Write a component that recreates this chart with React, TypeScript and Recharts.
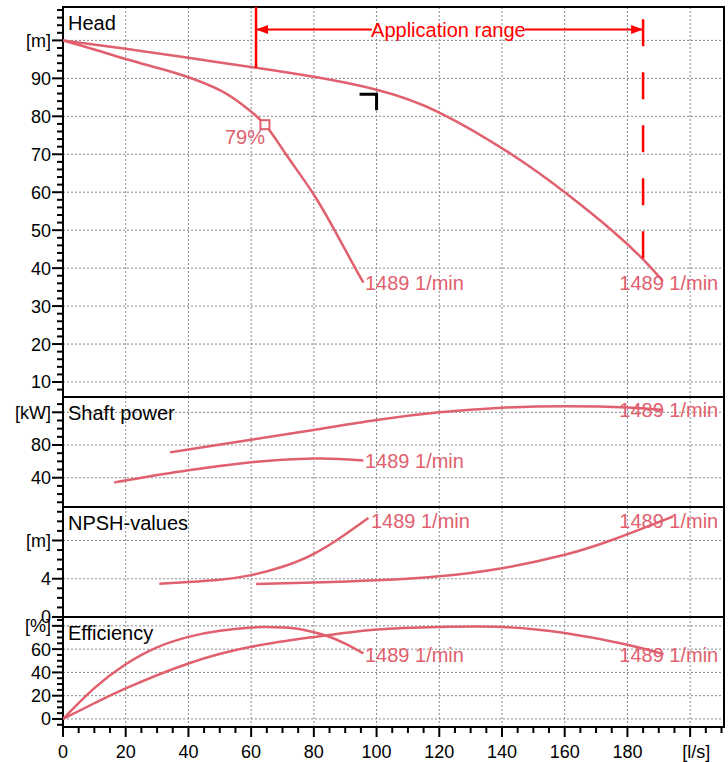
import React from 'react';
import {
  LineChart,
  Line,
  XAxis,
  YAxis,
  CartesianGrid,
  ReferenceLine,
  ReferenceDot,
  ReferenceArea,
} from 'recharts';

type Pt = { x: number; y: number };
const pts = (pairs: number[][]): Pt[] => pairs.map(([x, y]) => ({ x, y }));

// ---------- flow axis ----------
const X_MAX = 210.8;
const X_TICKS = Array.from({ length: 43 }, (_, i) => i * 5);
const X_MAJOR = [0, 20, 40, 60, 80, 100, 120, 140, 160, 180, 200];
const X_GRID = [20, 40, 60, 80, 100, 120, 140, 160, 180, 200];
const X_UNIT = '[l/s]';
const SPEED = '1489 1/min';

// ---------- Head [m] ----------
const headLarge = pts([
  [0, 100], [20, 97.8], [40, 95.4], [61.6, 92.8], [80, 90.4], [100, 87.0],
  [120, 81], [143, 70], [160, 60], [175, 50], [185, 42.3], [191.3, 36.6],
]);
const headSmall = pts([
  [0, 100], [10, 97.6], [20, 95.1], [30, 92.8], [40, 90.3], [50, 86.9], [57, 83.2],
  [64.4, 77.8], [71.1, 70], [79.5, 60], [86.6, 50], [93.2, 40], [95.8, 36.2],
]);
const HEAD_TICKS = Array.from({ length: 51 }, (_, i) => 8 + i * 2);
const HEAD_MAJOR = [10, 20, 30, 40, 50, 60, 70, 80, 90, 100];

// ---------- Shaft power [kW] ----------
const powerLarge = pts([
  [34.1, 71], [40, 74.6], [60, 86.4], [80, 98.4], [100, 110.6], [120, 120],
  [140, 125.6], [160, 127.4], [180, 126], [191.4, 122.8],
]);
const powerSmall = pts([
  [16.9, 34.7], [20, 36.6], [40, 49], [60, 58.8], [70, 62], [80, 63.4], [88, 63], [95.8, 61],
]);
const POWER_TICKS = [10, 20, 30, 40, 50, 60, 70, 80, 90, 100, 110, 120, 130];
const POWER_MAJOR = [40, 80, 120];

// ---------- NPSH [m] ----------
const npshSmall = pts([
  [30.7, 3.48], [40, 3.66], [50, 3.9], [59.6, 4.35], [70, 5.25], [80, 6.6],
  [89.4, 8.5], [97.4, 10.35],
]);
const npshLarge = pts([
  [61.6, 3.45], [80, 3.6], [100, 3.83], [120, 4.25], [140, 5.1], [160, 6.5],
  [175.5, 8.1], [194.5, 10.5],
]);
const NPSH_TICKS = [0, 1, 2, 3, 4, 5, 6, 7, 8, 9, 10, 11];
const NPSH_MAJOR = [0, 4, 8];

// ---------- Efficiency [%] ----------
const effSmall = pts([
  [0, 0], [10, 26.5], [20, 47], [30, 61.5], [40, 70.5], [50, 75.8], [60, 78.6],
  [65, 79], [72, 78.3], [78, 75.8], [84, 71.5], [90, 64.8], [95.8, 56.3],
]);
const effLarge = pts([
  [0, 0], [10, 13.5], [20, 26.3], [40, 47.7], [60, 62], [80, 70.4], [100, 76.9],
  [120, 79.1], [140, 79.1], [160, 73.9], [180, 63.8], [191.5, 55.7],
]);
const EFF_TICKS = [-5, 0, 5, 10, 15, 20, 25, 30, 35, 40, 45, 50, 55, 60, 65, 70, 75, 80, 85];
const EFF_MAJOR = [0, 20, 40, 60, 80];

// ---------- styling ----------
const PINK = '#e0606e';
const RED = '#ff0000';
const FONT = '"Liberation Sans", Arial, Helvetica, sans-serif';
const AXIS_FS = 18;
const ANN_FS = 20;
const W = 728;

const renderYTick = (p: any, majors: number[], unitAt: number, unit: string) => {
  const { x, y, payload } = p;
  const v = payload.value;
  const isMajor = majors.includes(v);
  return (
    <g>
      <line x1={x - (isMajor ? 11 : 6)} x2={x} y1={y} y2={y} stroke="#000" strokeWidth={2} />
      {isMajor && (
        <text x={x - 12} y={y} dy="0.36em" textAnchor="end" fontSize={AXIS_FS} fontFamily={FONT} fill="#000">
          {v === unitAt ? unit : v}
        </text>
      )}
    </g>
  );
};

const renderXTick = (p: any) => {
  const { x, y, payload } = p;
  const v = payload.value;
  const isMajor = X_MAJOR.includes(v);
  return (
    <g>
      <line x1={x} x2={x} y1={y} y2={y + (isMajor ? 10 : 6)} stroke="#000" strokeWidth={2} />
      {isMajor && (
        <text x={v === 200 ? x + 6 : x} y={y + 31} textAnchor="middle" fontSize={AXIS_FS} fontFamily={FONT} fill="#000">
          {v === 200 ? X_UNIT : v}
        </text>
      )}
    </g>
  );
};

const textShape = (label: string, opts: { dx?: number; dy?: number; anchor?: string; color?: string; size?: number; baseline?: boolean }) =>
  (p: any) => (
    <text
      x={p.cx + (opts.dx ?? 0)}
      y={p.cy + (opts.dy ?? 0)}
      dy={opts.baseline ? 0 : '0.36em'}
      textAnchor={opts.anchor ?? 'start'}
      fontSize={opts.size ?? ANN_FS}
      fontFamily={FONT}
      fill={opts.color ?? PINK}
    >
      {label}
    </text>
  );

type PanelProps = {
  top: number;
  height: number;
  domain: [number, number];
  ticks: number[];
  majors: number[];
  unitAt: number;
  unit: string;
  title: string;
  series: Pt[][];
  labels: { x: number; y: number }[];
  bottomAxis?: boolean;
  extras?: React.ReactNode;
};

function Panel({ top, height, domain, ticks, majors, unitAt, unit, title, series, labels, bottomAxis, extras }: PanelProps) {
  const xh = bottomAxis ? 35 : 0;
  return (
    <div style={{ position: 'absolute', left: 0, top: top - 7 }}>
      <LineChart
        width={W}
        height={height + 7 + (bottomAxis ? xh : 7)}
        margin={{ top: 7, right: 4, bottom: bottomAxis ? 0 : 7, left: 0 }}
      >
        <XAxis
          type="number"
          dataKey="x"
          domain={[0, X_MAX]}
          allowDataOverflow
          ticks={X_TICKS}
          interval={0}
          hide={!bottomAxis}
          height={xh}
          axisLine={false}
          tickLine={false}
          tickSize={0}
          tickMargin={0}
          tick={renderXTick}
        />
        <YAxis
          type="number"
          domain={domain}
          allowDataOverflow
          ticks={ticks}
          interval={0}
          width={63}
          axisLine={false}
          tickLine={false}
          tickSize={0}
          tickMargin={0}
          tick={(p: any) => renderYTick(p, majors, unitAt, unit)}
        />
        <CartesianGrid
          horizontalValues={majors}
          verticalValues={X_GRID}
          stroke="#888"
          strokeDasharray="2 2"
          strokeWidth={1}
        />
        {series.map((s, i) => (
          <Line
            key={i}
            data={s}
            dataKey="y"
            type="natural"
            stroke={PINK}
            strokeWidth={2.5}
            dot={false}
            activeDot={false}
            isAnimationActive={false}
          />
        ))}
        {extras}
        {labels.map((l, i) => (
          <ReferenceDot key={'l' + i} x={l.x} y={l.y} ifOverflow="visible" shape={textShape(SPEED, {})} />
        ))}
        <ReferenceDot
          x={0}
          y={domain[1]}
          ifOverflow="visible"
          shape={textShape(title, { dx: 5, dy: 22.5, color: '#000', baseline: true })}
        />
        <ReferenceArea
          x1={0}
          x2={X_MAX}
          y1={domain[0]}
          y2={domain[1]}
          ifOverflow="visible"
          fill="none"
          fillOpacity={0}
          stroke="#000"
          strokeWidth={2}
        />
      </LineChart>
    </div>
  );
}

// annotations in the head panel
const APP_LEFT = 61.56;
const APP_RIGHT = 185;
const APP_Y = 102.9;
const APP_TEXT_X = 122.9;
const APP_GAP = [98.5, 147.3];
const BEP = { x: 64.4, y: 77.8 };
const DUTY = { x: 100, y: 85.8 };

const headExtras = [
  <ReferenceLine
    key="al"
    ifOverflow="visible"
    segment={[{ x: APP_LEFT, y: 108.8 }, { x: APP_LEFT, y: 92.8 }]}
    stroke={RED}
    strokeWidth={2.5}
  />,
  <ReferenceLine
    key="ar"
    ifOverflow="visible"
    segment={[{ x: APP_RIGHT, y: 105.56 }, { x: APP_RIGHT, y: 42.3 }]}
    stroke={RED}
    strokeWidth={2.5}
    strokeDasharray="27 26"
  />,
  <ReferenceLine
    key="h1"
    ifOverflow="visible"
    segment={[{ x: APP_LEFT, y: APP_Y }, { x: APP_GAP[0], y: APP_Y }]}
    stroke={RED}
    strokeWidth={2}
  />,
  <ReferenceLine
    key="h2"
    ifOverflow="visible"
    segment={[{ x: APP_GAP[1], y: APP_Y }, { x: APP_RIGHT, y: APP_Y }]}
    stroke={RED}
    strokeWidth={2}
  />,
  <ReferenceDot
    key="arrL"
    x={APP_LEFT}
    y={APP_Y}
    ifOverflow="visible"
    shape={(p: any) => (
      <path d={`M${p.cx},${p.cy} L${p.cx + 12},${p.cy - 4.5} L${p.cx + 12},${p.cy + 4.5} Z`} fill={RED} />
    )}
  />,
  <ReferenceDot
    key="arrR"
    x={APP_RIGHT}
    y={APP_Y}
    ifOverflow="visible"
    shape={(p: any) => (
      <path d={`M${p.cx},${p.cy} L${p.cx - 12},${p.cy - 4.5} L${p.cx - 12},${p.cy + 4.5} Z`} fill={RED} />
    )}
  />,
  <ReferenceDot
    key="apptext"
    x={APP_TEXT_X}
    y={APP_Y}
    ifOverflow="visible"
    shape={textShape('Application range', { anchor: 'middle', color: RED })}
  />,
  <ReferenceDot
    key="bep"
    x={BEP.x}
    y={BEP.y}
    ifOverflow="visible"
    shape={(p: any) => (
      <g>
        <rect x={p.cx - 4.5} y={p.cy - 4.5} width={9} height={9} fill="#fff" stroke={PINK} strokeWidth={2} />
        <text x={p.cx} y={p.cy + 12.4} dy="0.36em" textAnchor="end" fontSize={ANN_FS} fontFamily={FONT} fill={PINK}>
          79%
        </text>
      </g>
    )}
  />,
  <ReferenceDot
    key="duty"
    x={DUTY.x}
    y={DUTY.y}
    ifOverflow="visible"
    shape={(p: any) => (
      <path d={`M${p.cx - 17},${p.cy} L${p.cx},${p.cy} L${p.cx},${p.cy + 16}`} fill="none" stroke="#000" strokeWidth={3} />
    )}
  />,
];

export default function App() {
  return (
    <div style={{ position: 'absolute', left: 0, top: 0, width: 728, height: 762, background: '#fff' }}>
      <Panel
        top={7}
        height={390}
        domain={[6.05, 108.8]}
        ticks={HEAD_TICKS}
        majors={HEAD_MAJOR}
        unitAt={100}
        unit="[m]"
        title="Head"
        series={[headLarge, headSmall]}
        labels={[{ x: 96.3, y: 36.2 }, { x: 177.4, y: 36.1 }]}
        extras={headExtras}
      />
      <Panel
        top={397}
        height={110}
        domain={[4.2, 138.7]}
        ticks={POWER_TICKS}
        majors={POWER_MAJOR}
        unitAt={120}
        unit="[kW]"
        title="Shaft power"
        series={[powerLarge, powerSmall]}
        labels={[{ x: 96.3, y: 60.4 }, { x: 177.4, y: 122.8 }]}
      />
      <Panel
        top={507}
        height={110}
        domain={[0, 11.5]}
        ticks={NPSH_TICKS}
        majors={NPSH_MAJOR}
        unitAt={8}
        unit="[m]"
        title="NPSH-values"
        series={[npshSmall, npshLarge]}
        labels={[{ x: 98.2, y: 10.07 }, { x: 177.4, y: 10.07 }]}
      />
      <Panel
        top={617}
        height={110}
        domain={[-6.9, 87.6]}
        ticks={EFF_TICKS}
        majors={EFF_MAJOR}
        unitAt={80}
        unit="[%]"
        title="Efficiency"
        series={[effSmall, effLarge]}
        labels={[{ x: 96.3, y: 54.8 }, { x: 177.4, y: 54.8 }]}
        bottomAxis
      />
    </div>
  );
}
